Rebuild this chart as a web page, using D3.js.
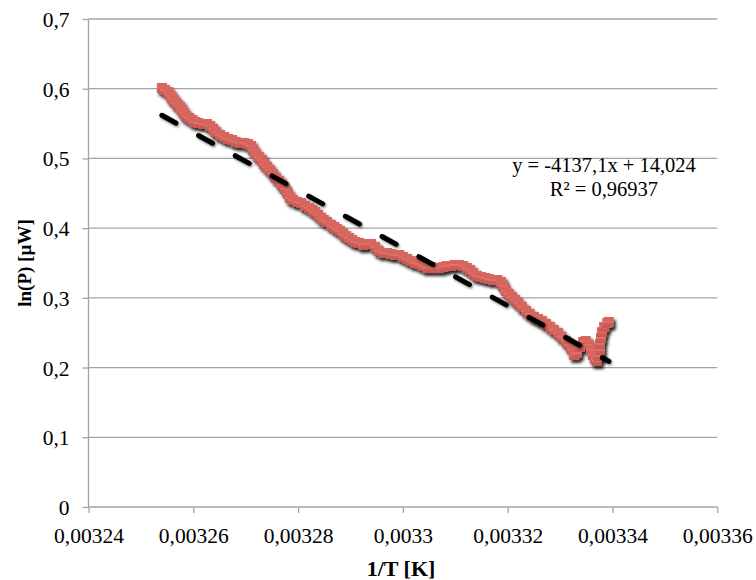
<!DOCTYPE html>
<html>
<head>
<meta charset="utf-8">
<script src="https://cdn.jsdelivr.net/npm/d3@7"></script>
<style>
  html, body { margin: 0; padding: 0; background: #fff; }
  svg { display: block; }
  text { font-family: "Liberation Serif", "Times New Roman", serif; fill: #000; }
</style>
</head>
<body>
<svg id="chart" width="756" height="580"></svg>
<script>
// Measured power vs. inverse temperature
const invT = [
  0.0032540, 0.0032546, 0.0032552, 0.0032556, 0.0032559, 0.0032563, 0.0032567, 0.0032571,
  0.0032575, 0.0032578, 0.0032582, 0.0032586, 0.0032592, 0.0032598, 0.0032603, 0.0032609,
  0.0032619, 0.0032626, 0.0032632, 0.0032638, 0.0032643, 0.0032651, 0.0032659, 0.0032666,
  0.0032674, 0.0032681, 0.0032689, 0.0032697, 0.0032704, 0.0032710, 0.0032714, 0.0032720,
  0.0032725, 0.0032731, 0.0032735, 0.0032741, 0.0032746, 0.0032752, 0.0032758, 0.0032764,
  0.0032769, 0.0032775, 0.0032781, 0.0032785, 0.0032790, 0.0032798, 0.0032806, 0.0032813,
  0.0032821, 0.0032827, 0.0032832, 0.0032838, 0.0032844, 0.0032849, 0.0032855, 0.0032863,
  0.0032869, 0.0032874, 0.0032880, 0.0032886, 0.0032891, 0.0032897, 0.0032903, 0.0032909,
  0.0032916, 0.0032924, 0.0032931, 0.0032939, 0.0032947, 0.0032954, 0.0032962, 0.0032970,
  0.0032977, 0.0032985, 0.0032993, 0.0033000, 0.0033008, 0.0033015, 0.0033023, 0.0033031,
  0.0033038, 0.0033046, 0.0033054, 0.0033061, 0.0033069, 0.0033077, 0.0033084, 0.0033092,
  0.0033099, 0.0033107, 0.0033115, 0.0033122, 0.0033128, 0.0033134, 0.0033141, 0.0033149,
  0.0033157, 0.0033164, 0.0033172, 0.0033180, 0.0033187, 0.0033191, 0.0033197, 0.0033202,
  0.0033208, 0.0033214, 0.0033220, 0.0033227, 0.0033235, 0.0033242, 0.0033250, 0.0033258,
  0.0033265, 0.0033273, 0.0033281, 0.0033288, 0.0033296, 0.0033303, 0.0033311, 0.0033317,
  0.0033323, 0.0033327, 0.0033332, 0.0033338, 0.0033344, 0.0033349, 0.0033355, 0.0033359,
  0.0033363, 0.0033367, 0.0033370, 0.0033374, 0.0033376, 0.0033376, 0.0033378, 0.0033380,
  0.0033384, 0.0033390, 0.0033393
];
const lnP = [
  0.6011, 0.5982, 0.5953, 0.5910, 0.5867, 0.5838, 0.5795, 0.5767,
  0.5738, 0.5695, 0.5652, 0.5609, 0.5580, 0.5552, 0.5523, 0.5509,
  0.5494, 0.5494, 0.5466, 0.5422, 0.5379, 0.5336, 0.5308, 0.5279,
  0.5265, 0.5236, 0.5222, 0.5222, 0.5207, 0.5179, 0.5121, 0.5064,
  0.5021, 0.4978, 0.4920, 0.4877, 0.4834, 0.4777, 0.4720, 0.4677,
  0.4619, 0.4562, 0.4490, 0.4433, 0.4404, 0.4375, 0.4361, 0.4318,
  0.4289, 0.4260, 0.4232, 0.4189, 0.4146, 0.4117, 0.4088, 0.4045,
  0.4017, 0.3988, 0.3959, 0.3916, 0.3888, 0.3859, 0.3830, 0.3801,
  0.3787, 0.3758, 0.3773, 0.3773, 0.3730, 0.3672, 0.3644, 0.3644,
  0.3629, 0.3615, 0.3615, 0.3586, 0.3558, 0.3529, 0.3500, 0.3486,
  0.3457, 0.3428, 0.3443, 0.3428, 0.3428, 0.3443, 0.3457, 0.3457,
  0.3472, 0.3472, 0.3457, 0.3428, 0.3400, 0.3357, 0.3314, 0.3299,
  0.3285, 0.3271, 0.3256, 0.3256, 0.3228, 0.3170, 0.3099, 0.3056,
  0.3012, 0.2969, 0.2926, 0.2869, 0.2812, 0.2769, 0.2726, 0.2697,
  0.2668, 0.2625, 0.2582, 0.2539, 0.2496, 0.2439, 0.2381, 0.2324,
  0.2252, 0.2180, 0.2209, 0.2295, 0.2367, 0.2381, 0.2324, 0.2252,
  0.2180, 0.2123, 0.2094, 0.2166, 0.2252, 0.2338, 0.2424, 0.2510,
  0.2582, 0.2640, 0.2654
];

// Linear trendline fitted in the spreadsheet
const trendSlope = -4137.1;
const trendIntercept = 14.024;
const rSquared = 0.96937;
const equationLines = ["y = -4137,1x + 14,024", "R² = 0,96937"];

// Axis ticks
const xTicks = [0.00324, 0.00326, 0.00328, 0.00330, 0.00332, 0.00334, 0.00336];
const xTickLabels = ["0,00324", "0,00326", "0,00328", "0,0033", "0,00332", "0,00334", "0,00336"];
const yTicks = [0, 0.1, 0.2, 0.3, 0.4, 0.5, 0.6, 0.7];
const yTickLabels = ["0", "0,1", "0,2", "0,3", "0,4", "0,5", "0,6", "0,7"];

const xTitle = "1/T [K]";
const yTitle = "ln(P) [µW]";

const svg = d3.select("#chart");
const plot = { left: 88.5, right: 717.3, top: 19, bottom: 507 };

const x = d3.scaleLinear().domain([0.00324, 0.00336]).range([plot.left, plot.right]);
const y = d3.scaleLinear().domain([0, 0.7]).range([plot.bottom, plot.top]);

const defs = svg.append("defs");
const shadow = defs.append("filter").attr("id", "shadow")
  .attr("x", "-20%").attr("y", "-20%").attr("width", "140%").attr("height", "140%");
shadow.append("feDropShadow").attr("dx", 2).attr("dy", 3).attr("stdDeviation", 1.8)
  .attr("flood-color", "#000").attr("flood-opacity", 0.85);

const lineShadow = defs.append("filter").attr("id", "lineShadow")
  .attr("x", "-20%").attr("y", "-20%").attr("width", "140%").attr("height", "140%");
lineShadow.append("feDropShadow").attr("dx", 1).attr("dy", 1.5).attr("stdDeviation", 1)
  .attr("flood-color", "#000").attr("flood-opacity", 0.5);

const grad = defs.append("linearGradient").attr("id", "markerFill")
  .attr("x1", 0).attr("y1", 0).attr("x2", 0).attr("y2", 1);
grad.append("stop").attr("offset", "0%").attr("stop-color", "#d9675f");
grad.append("stop").attr("offset", "42%").attr("stop-color", "#d5635b");
grad.append("stop").attr("offset", "50%").attr("stop-color", "#e58a82");
grad.append("stop").attr("offset", "58%").attr("stop-color", "#d0605a");
grad.append("stop").attr("offset", "100%").attr("stop-color", "#c75850");

const gridColor = "#a3a3a3";

// Horizontal gridlines
svg.append("g").selectAll("line").data(yTicks.filter(v => v > 0)).join("line")
  .attr("x1", plot.left).attr("x2", plot.right)
  .attr("y1", d => y(d)).attr("y2", d => y(d))
  .attr("stroke", gridColor).attr("stroke-width", 1.3);

// X axis
const xAxis = d3.axisBottom(x).tickValues(xTicks).tickSize(6)
  .tickFormat((d, i) => xTickLabels[i]);
const gx = svg.append("g").attr("transform", `translate(0,${plot.bottom})`).call(xAxis);
gx.select(".domain").attr("stroke", gridColor).attr("stroke-width", 1.3)
  .attr("d", `M${plot.left},0H${plot.right}`);
gx.selectAll(".tick line").attr("stroke", gridColor).attr("stroke-width", 1.3);
gx.selectAll(".tick text").attr("y", 21).attr("dy", "0.71em")
  .style("font-family", "'Liberation Serif', serif").style("font-size", "21.5px").attr("fill", "#000");

// Y axis
const yAxis = d3.axisLeft(y).tickValues(yTicks).tickSize(6)
  .tickFormat((d, i) => yTickLabels[i]);
const gy = svg.append("g").attr("transform", `translate(${plot.left},0)`).call(yAxis);
gy.select(".domain").attr("stroke", gridColor).attr("stroke-width", 1.3)
  .attr("d", `M0,${plot.top}V${plot.bottom}`);
gy.selectAll(".tick line").attr("stroke", gridColor).attr("stroke-width", 1.3);
gy.selectAll(".tick text").attr("x", -19).attr("dy", "0.35em")
  .style("font-family", "'Liberation Serif', serif").style("font-size", "21.5px").attr("fill", "#000");

// Data markers
const points = invT.map((v, i) => ({ x: v, y: lnP[i] }));
const ms = 10;
svg.append("g").attr("filter", "url(#shadow)")
  .selectAll("rect").data(points).join("rect")
  .attr("x", d => x(d.x) - ms / 2).attr("y", d => y(d.y) - ms / 2)
  .attr("width", ms).attr("height", ms)
  .attr("fill", "url(#markerFill)");

// Trendline over the data range
const [xMin, xMax] = d3.extent(invT);
const trend = [xMin, xMax].map(v => ({ x: v, y: trendSlope * v + trendIntercept }));
svg.append("path")
  .attr("d", d3.line().x(d => x(d.x)).y(d => y(d.y))(trend))
  .attr("fill", "none").attr("stroke", "#000").attr("stroke-width", 5)
  .attr("stroke-linecap", "round").attr("stroke-dasharray", "16,25.9")
  .attr("filter", "url(#lineShadow)");

// Trendline equation
svg.append("text").attr("x", 604).attr("y", 172).attr("text-anchor", "middle")
  .style("font-size", "20.5px").text(equationLines[0]);
svg.append("text").attr("x", 604).attr("y", 195.5).attr("text-anchor", "middle")
  .style("font-size", "20.5px").text(equationLines[1]);

// Axis titles
svg.append("text").attr("x", 401).attr("y", 576).attr("text-anchor", "middle")
  .style("font-weight", "bold").style("font-size", "22px").text(xTitle);
svg.append("text").attr("transform", "translate(31,263) rotate(-90)").attr("text-anchor", "middle")
  .style("font-weight", "bold").style("font-size", "19px").text(yTitle);
</script>
</body>
</html>
